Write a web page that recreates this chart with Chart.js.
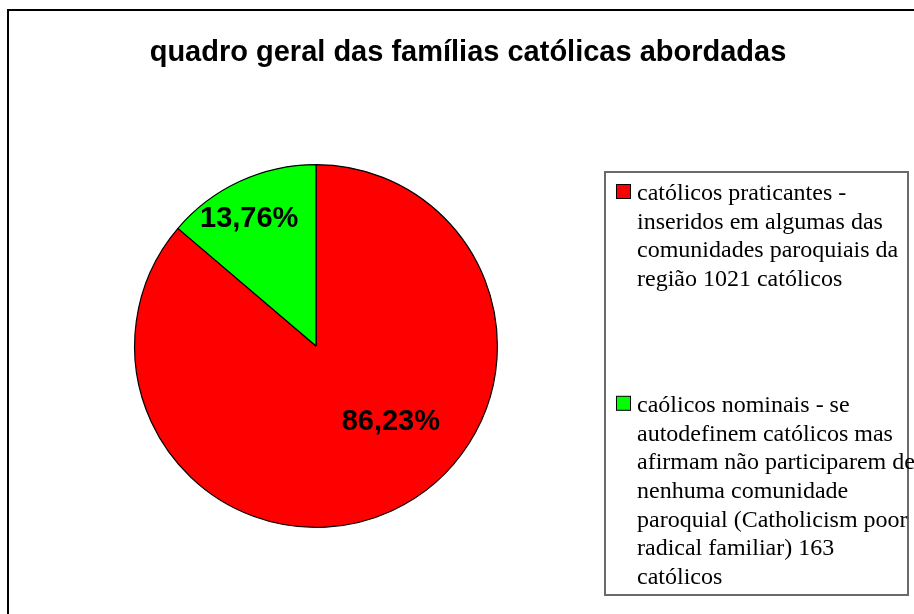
<!DOCTYPE html>
<html>
<head>
<meta charset="utf-8">
<script src="https://cdn.jsdelivr.net/npm/chart.js@4"></script>
<style>
  body { margin: 0; background: #fff; }
  #wrap { width: 914px; height: 614px; }
</style>
</head>
<body>
<div id="wrap"><canvas id="pieChart" width="914" height="614"></canvas></div>
<script>
// data
var chartTitle = "quadro geral das famílias católicas abordadas";
var categories = [
  ["católicos praticantes -", "inseridos em algumas das", "comunidades paroquiais da", "região 1021 católicos"],
  ["caólicos nominais - se", "autodefinem católicos mas", "afirmam não participarem de", "nenhuma comunidade", "paroquial (Catholicism poor", "radical familiar) 163", "católicos"]
];
var counts = [1021, 163];
var percentLabels = ["86,23%", "13,76%"];
var sliceColors = ["#ff0000", "#00ff00"];

// where excel put the percent text, relative to each slice
var labelRadius = [0.59, 0.79];
var labelShiftDeg = [-19.6, -3];

var decorPlugin = {
  id: "decor",
  beforeDraw: function(chart)
  {
    var ctx = chart.ctx;
    ctx.save();
    ctx.fillStyle = "#fff";
    ctx.fillRect(0, 0, chart.width, chart.height);
    // outer frame (only top and left visible)
    ctx.strokeStyle = "#000";
    ctx.lineWidth = 2;
    ctx.strokeRect(8, 10, chart.width + 20, chart.height + 20);
    ctx.restore();
  },
  afterDraw: function(chart)
  {
    var ctx = chart.ctx;
    ctx.save();

    // title
    ctx.fillStyle = "#000";
    ctx.font = "bold 29px 'Liberation Sans', Arial, sans-serif";
    ctx.textAlign = "center";
    ctx.textBaseline = "alphabetic";
    ctx.fillText(chartTitle, 468, 61);

    // percent labels on the slices
    var meta = chart.getDatasetMeta(0);
    ctx.font = "bold 29px 'Liberation Sans', Arial, sans-serif";
    ctx.textBaseline = "middle";
    for (var i = 0; i < meta.data.length; i++)
    {
      var arc = meta.data[i];
      var mid = (arc.startAngle + arc.endAngle) / 2 + labelShiftDeg[i] * Math.PI / 180;
      var r = arc.outerRadius * labelRadius[i];
      ctx.fillText(percentLabels[i], arc.x + Math.cos(mid) * r, arc.y + Math.sin(mid) * r);
    }

    // legend box
    var boxL = 605, boxT = 172, boxR = 908, boxB = 595;
    ctx.strokeStyle = "#6a6a6a";
    ctx.lineWidth = 2;
    ctx.strokeRect(boxL, boxT, boxR - boxL, boxB - boxT);

    ctx.font = "24px 'Liberation Serif', 'Times New Roman', serif";
    ctx.textAlign = "left";
    ctx.textBaseline = "alphabetic";
    var lineH = 28.7;
    var entryGap = 97;
    var baseY = 200;
    for (var k = 0; k < categories.length; k++)
    {
      ctx.fillStyle = sliceColors[k];
      ctx.fillRect(616.5, baseY - 15.5, 14, 14);
      ctx.strokeStyle = "#000";
      ctx.lineWidth = 1;
      ctx.strokeRect(616.5, baseY - 15.5, 14, 14);
      ctx.fillStyle = "#000";
      for (var j = 0; j < categories[k].length; j++)
      {
        ctx.fillText(categories[k][j], 637, baseY + j * lineH);
      }
      baseY += categories[k].length * lineH + entryGap;
    }
    ctx.restore();
  }
};

var pieChart = new Chart(document.getElementById("pieChart"), {
  type: "pie",
  data: {
    labels: categories.map(function(c) { return c.join(" "); }),
    datasets: [{
      data: counts,
      backgroundColor: sliceColors,
      borderColor: "#000",
      borderWidth: 1.2
    }]
  },
  options: {
    responsive: false,
    animation: false,
    layout: { padding: { left: 134, top: 164, right: 416, bottom: 86 } },
    plugins: {
      legend: { display: false },
      title: { display: false },
      tooltip: { enabled: false }
    }
  },
  plugins: [decorPlugin]
});
</script>
</body>
</html>
